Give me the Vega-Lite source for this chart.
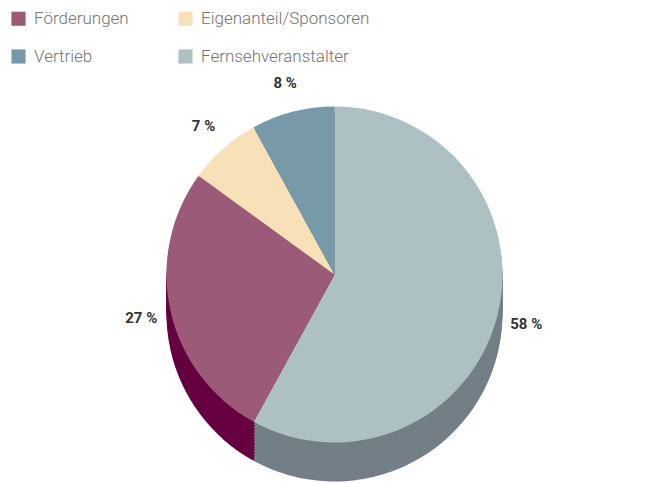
{
  "$schema": "https://vega.github.io/schema/vega-lite/v6.json",
  "width": 669,
  "height": 483,
  "autosize": {"type": "fit", "contains": "padding"},
  "padding": 0,
  "background": "white",
  "config": {"view": {"stroke": null}},
  "data": {
    "values": [
      {"category": "Fernsehveranstalter", "value": 58, "label": "58 %"},
      {"category": "Förderungen", "value": 27, "label": "27 %"},
      {"category": "Eigenanteil/Sponsoren", "value": 7, "label": "7 %"},
      {"category": "Vertrieb", "value": 8, "label": "8 %"}
    ]
  },
  "transform": [{"window": [{"op": "row_number", "as": "idx"}]}],
  "encoding": {
    "theta": {"field": "value", "type": "quantitative", "stack": true},
    "order": {"field": "idx", "type": "quantitative", "sort": "ascending"}
  },
  "layer": [
    {"mark": {"type": "arc", "radius": 168, "yOffset": 72},
     "encoding": {"color": {"field": "category", "type": "nominal", "scale": {"domain": ["Fernsehveranstalter", "Förderungen", "Eigenanteil/Sponsoren", "Vertrieb"], "range": ["#737f87", "#660040", "#b8a47e", "#4f6e7c"]}, "legend": null}}},
    {"mark": {"type": "arc", "radius": 168, "yOffset": 69},
     "encoding": {"color": {"field": "category", "type": "nominal", "scale": {"domain": ["Fernsehveranstalter", "Förderungen", "Eigenanteil/Sponsoren", "Vertrieb"], "range": ["#737f87", "#660040", "#b8a47e", "#4f6e7c"]}, "legend": null}}},
    {"mark": {"type": "arc", "radius": 168, "yOffset": 66},
     "encoding": {"color": {"field": "category", "type": "nominal", "scale": {"domain": ["Fernsehveranstalter", "Förderungen", "Eigenanteil/Sponsoren", "Vertrieb"], "range": ["#737f87", "#660040", "#b8a47e", "#4f6e7c"]}, "legend": null}}},
    {"mark": {"type": "arc", "radius": 168, "yOffset": 63},
     "encoding": {"color": {"field": "category", "type": "nominal", "scale": {"domain": ["Fernsehveranstalter", "Förderungen", "Eigenanteil/Sponsoren", "Vertrieb"], "range": ["#737f87", "#660040", "#b8a47e", "#4f6e7c"]}, "legend": null}}},
    {"mark": {"type": "arc", "radius": 168, "yOffset": 60},
     "encoding": {"color": {"field": "category", "type": "nominal", "scale": {"domain": ["Fernsehveranstalter", "Förderungen", "Eigenanteil/Sponsoren", "Vertrieb"], "range": ["#737f87", "#660040", "#b8a47e", "#4f6e7c"]}, "legend": null}}},
    {"mark": {"type": "arc", "radius": 168, "yOffset": 57},
     "encoding": {"color": {"field": "category", "type": "nominal", "scale": {"domain": ["Fernsehveranstalter", "Förderungen", "Eigenanteil/Sponsoren", "Vertrieb"], "range": ["#737f87", "#660040", "#b8a47e", "#4f6e7c"]}, "legend": null}}},
    {"mark": {"type": "arc", "radius": 168, "yOffset": 54},
     "encoding": {"color": {"field": "category", "type": "nominal", "scale": {"domain": ["Fernsehveranstalter", "Förderungen", "Eigenanteil/Sponsoren", "Vertrieb"], "range": ["#737f87", "#660040", "#b8a47e", "#4f6e7c"]}, "legend": null}}},
    {"mark": {"type": "arc", "radius": 168, "yOffset": 51},
     "encoding": {"color": {"field": "category", "type": "nominal", "scale": {"domain": ["Fernsehveranstalter", "Förderungen", "Eigenanteil/Sponsoren", "Vertrieb"], "range": ["#737f87", "#660040", "#b8a47e", "#4f6e7c"]}, "legend": null}}},
    {"mark": {"type": "arc", "radius": 168, "yOffset": 48},
     "encoding": {"color": {"field": "category", "type": "nominal", "scale": {"domain": ["Fernsehveranstalter", "Förderungen", "Eigenanteil/Sponsoren", "Vertrieb"], "range": ["#737f87", "#660040", "#b8a47e", "#4f6e7c"]}, "legend": null}}},
    {"mark": {"type": "arc", "radius": 168, "yOffset": 45},
     "encoding": {"color": {"field": "category", "type": "nominal", "scale": {"domain": ["Fernsehveranstalter", "Förderungen", "Eigenanteil/Sponsoren", "Vertrieb"], "range": ["#737f87", "#660040", "#b8a47e", "#4f6e7c"]}, "legend": null}}},
    {"mark": {"type": "arc", "radius": 168, "yOffset": 42},
     "encoding": {"color": {"field": "category", "type": "nominal", "scale": {"domain": ["Fernsehveranstalter", "Förderungen", "Eigenanteil/Sponsoren", "Vertrieb"], "range": ["#737f87", "#660040", "#b8a47e", "#4f6e7c"]}, "legend": null}}},
    {"mark": {"type": "arc", "radius": 168, "yOffset": 39},
     "encoding": {"color": {"field": "category", "type": "nominal", "scale": {"domain": ["Fernsehveranstalter", "Förderungen", "Eigenanteil/Sponsoren", "Vertrieb"], "range": ["#737f87", "#660040", "#b8a47e", "#4f6e7c"]}, "legend": null}}},
    {"mark": {"type": "arc", "radius": 168, "yOffset": 36},
     "encoding": {"color": {"field": "category", "type": "nominal", "scale": {"domain": ["Fernsehveranstalter", "Förderungen", "Eigenanteil/Sponsoren", "Vertrieb"], "range": ["#737f87", "#660040", "#b8a47e", "#4f6e7c"]}, "legend": null}}},
    {"mark": {"type": "arc", "radius": 168, "yOffset": 33},
     "encoding": {"color": {"field": "category", "type": "nominal",
         "scale": {"domain": ["Fernsehveranstalter", "Förderungen", "Eigenanteil/Sponsoren", "Vertrieb"], "range": ["#adc1c4", "#9b5b78", "#f8e1b8", "#7799a8"]},
         "legend": {"orient": "top-left", "offset": 10, "padding": 0, "title": null, "columns": 2, "columnPadding": 48, "rowPadding": 20,
           "values": ["Förderungen", "Vertrieb", "Eigenanteil/Sponsoren", "Fernsehveranstalter"],
           "symbolType": "square", "symbolSize": 200, "symbolStrokeWidth": 0, "labelFont": "Roboto", "labelFontWeight": 300,
           "labelFontSize": 17, "labelColor": "#757575", "labelOffset": 7, "labelLimit": 300}}}},
    {"mark": {"type": "text", "radius": 198, "yOffset": 33, "font": "Roboto", "fontWeight": "bold", "fontSize": 15, "color": "#333333"},
     "encoding": {"text": {"field": "label", "type": "nominal"}}}
  ],
  "resolve": {"scale": {"color": "independent"}}
}
